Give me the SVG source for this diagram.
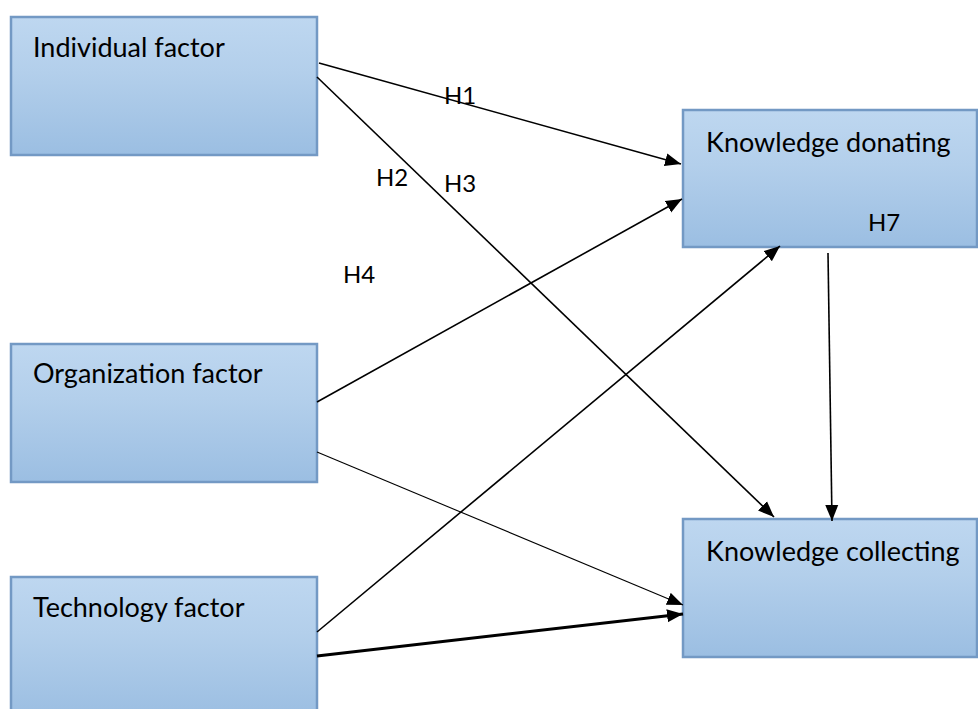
<svg xmlns="http://www.w3.org/2000/svg" width="978" height="709" viewBox="0 0 978 709">
<style>
.box{fill:url(#g);stroke:#7399C4;stroke-width:2.5}
.t{font-family:Lato,"Liberation Sans",sans-serif;font-size:27px;fill:#000}
.h{font-family:Lato,"Liberation Sans",sans-serif;font-size:24px;fill:#000}
.c{fill:none;stroke:#000;stroke-width:1.6}
</style>
<defs>
<linearGradient id="g" x1="0" y1="0" x2="0" y2="1">
<stop offset="0" stop-color="#BED7F0"/>
<stop offset="0.4" stop-color="#B3CFEB"/>
<stop offset="1" stop-color="#9BBEE2"/>
</linearGradient>
<marker id="a" markerUnits="userSpaceOnUse" markerWidth="18" markerHeight="14" refX="16" refY="6.5" orient="auto" viewBox="0 0 18 13">
<path d="M0,0 L16,6.5 L0,13 Z" fill="#000"/>
</marker>
</defs>
<g id="individual"><rect class="box" x="11" y="17" width="306" height="138"/><text class="t" x="33" y="57">Individual factor</text></g>
<g id="organization"><rect class="box" x="11" y="344" width="306" height="138"/><text class="t" x="33" y="383">Organization factor</text></g>
<g id="technology"><rect class="box" x="11" y="577" width="306" height="140"/><text class="t" x="33" y="617">Technology factor</text></g>
<g id="donating"><rect class="box" x="683" y="110" width="294" height="137"/><text class="t" x="706" y="152">Knowledge donating</text></g>
<g id="collecting"><rect class="box" x="683" y="519" width="294" height="138"/><text class="t" x="706" y="561">Knowledge collecting</text></g>
<g id="connectors">
<line class="c" x1="319" y1="63" x2="681" y2="164" marker-end="url(#a)"/>
<line class="c" x1="317" y1="77" x2="774" y2="517" marker-end="url(#a)"/>
<line class="c" x1="317" y1="402" x2="682" y2="199" marker-end="url(#a)"/>
<line class="c" x1="317" y1="452" x2="683" y2="605" marker-end="url(#a)" style="stroke-width:1.1"/>
<line class="c" x1="317" y1="632" x2="780" y2="246" marker-end="url(#a)"/>
<line class="c" x1="317" y1="656" x2="683" y2="614" marker-end="url(#a)" style="stroke-width:3"/>
<line class="c" x1="828" y1="253" x2="832" y2="521" marker-end="url(#a)"/>
</g>
<g id="labels">
<text class="h" x="444" y="104">H1</text>
<text class="h" x="376" y="186">H2</text>
<text class="h" x="444" y="192">H3</text>
<text class="h" x="343" y="283">H4</text>
<text class="h" x="868" y="231">H7</text>
</g>
</svg>
